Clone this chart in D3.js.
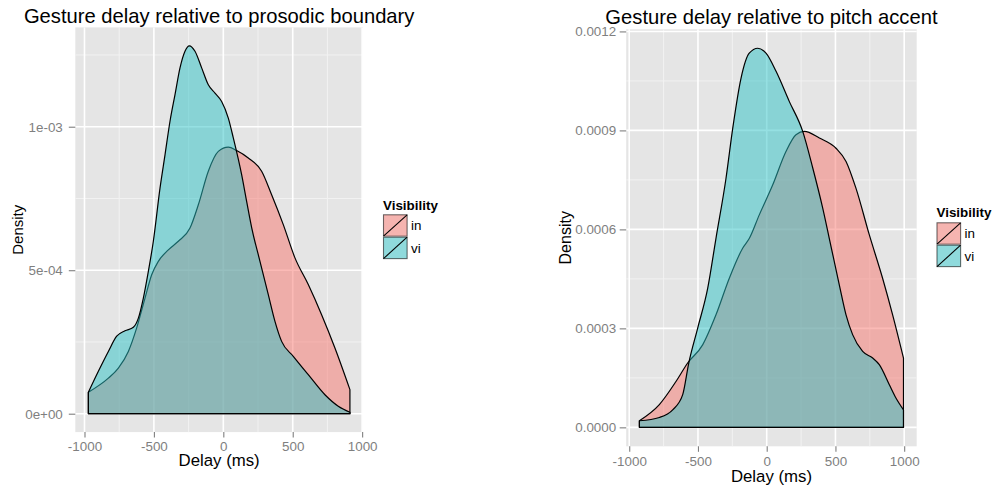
<!DOCTYPE html>
<html>
<head>
<meta charset="utf-8">
<script src="https://cdn.jsdelivr.net/npm/d3@7"></script>
<style>
body { margin: 0; background: #fff; }
svg text { font-family: "Liberation Sans", Arial, Helvetica, sans-serif; }
</style>
</head>
<body>
<div id="chart"></div>
<script>
// groups and fill colours
const groups = ["in", "vi"];
const colors = ["#F8766D", "#2BC2C6"];

// left plot: delay relative to prosodic boundary (density)
const boundaryInX = [-972, -828, -756, -684, -624, -564, -516, -468, -396, -324, -240, -180, -108, -36, 36, 96, 180, 276, 348, 432, 516, 612, 708, 804, 912];
const boundaryInY = [0.75e-4, 1.24e-4, 1.59e-4, 2.17e-4, 2.99e-4, 4.03e-4, 4.84e-4, 5.31e-4, 5.71e-4, 6.01e-4, 6.47e-4, 7.28e-4, 8.45e-4, 9.14e-4, 9.29e-4, 9.17e-4, 8.91e-4, 8.45e-4, 7.63e-4, 6.59e-4, 5.43e-4, 4.50e-4, 3.45e-4, 2.29e-4, 0.84e-4];
const boundaryViX = [-972, -900, -828, -768, -708, -648, -612, -576, -540, -504, -456, -420, -384, -348, -312, -276, -245, -204, -156, -108, -60, -12, 36, 72, 132, 168, 205, 264, 324, 372, 420, 504, 612, 732, 828, 912];
const boundaryViY = [0.75e-4, 1.48e-4, 2.17e-4, 2.70e-4, 2.89e-4, 3.01e-4, 3.33e-4, 4.03e-4, 4.96e-4, 6.01e-4, 7.86e-4, 9.02e-4, 10.19e-4, 11.12e-4, 12.05e-4, 12.63e-4, 12.82e-4, 12.63e-4, 12.05e-4, 11.46e-4, 11.17e-4, 10.88e-4, 10.30e-4, 9.61e-4, 8.33e-4, 7.40e-4, 6.47e-4, 5.31e-4, 4.15e-4, 3.22e-4, 2.52e-4, 2.00e-4, 1.36e-4, 0.66e-4, 0.26e-4, 0.05e-4];

// right plot: delay relative to pitch accent
const accentInX = [-926, -781, -660, -575, -466, -369, -272, -175, -126, -54, 44, 140, 213, 274, 383, 504, 577, 649, 746, 843, 916, 995];
const accentInY = [0.20e-4, 0.69e-4, 1.39e-4, 1.95e-4, 2.50e-4, 3.41e-4, 4.52e-4, 5.43e-4, 5.73e-4, 6.44e-4, 7.35e-4, 8.36e-4, 8.87e-4, 8.97e-4, 8.77e-4, 8.46e-4, 8.06e-4, 7.25e-4, 5.84e-4, 4.52e-4, 3.41e-4, 2.10e-4];
const accentViX = [-926, -781, -684, -611, -567, -502, -429, -369, -296, -247, -187, -127, -65, -5, 68, 164, 262, 335, 407, 455, 528, 577, 625, 698, 771, 819, 892, 940, 995];
const accentViY = [0.20e-4, 0.30e-4, 0.53e-4, 0.99e-4, 1.95e-4, 3.01e-4, 4.22e-4, 5.73e-4, 7.55e-4, 9.07e-4, 10.58e-4, 11.34e-4, 11.49e-4, 11.34e-4, 10.79e-4, 9.88e-4, 8.97e-4, 7.86e-4, 6.65e-4, 5.73e-4, 4.32e-4, 3.41e-4, 2.81e-4, 2.30e-4, 2.10e-4, 1.90e-4, 1.29e-4, 0.89e-4, 0.53e-4];

// tick values and labels
const xTicks = [-1000, -500, 0, 500, 1000];
const xTickLabels = ["-1000", "-500", "0", "500", "1000"];
const boundaryYTicks = [0, 0.0005, 0.001];
const boundaryYLabels = ["0e+00", "5e-04", "1e-03"];
const accentYTicks = [0, 0.0003, 0.0006, 0.0009, 0.0012];
const accentYLabels = ["0.0000", "0.0003", "0.0006", "0.0009", "0.0012"];

const svg = d3.select("#chart")
    .append("svg")
    .attr("width", 993)
    .attr("height", 486);

const panels = [
    {
        title: "Gesture delay relative to prosodic boundary",
        series: [{ x: boundaryInX, y: boundaryInY }, { x: boundaryViX, y: boundaryViY }],
        yTicks: boundaryYTicks, yLabels: boundaryYLabels,
        left: 75.3, right: 363, top: 27.4, bottom: 432.1,
        titleY: 23.3, yPad: 6, densityX: 23.3, densitySize: 15, xLabelPad: 3.8, xTitleY: 466,
        legendX: 383, legendY: 209.5, keyTop: 214.3
    },
    {
        title: "Gesture delay relative to pitch accent",
        series: [{ x: accentInX, y: accentInY }, { x: accentViX, y: accentViY }],
        yTicks: accentYTicks, yLabels: accentYLabels,
        left: 626.2, right: 916.7, top: 29.3, bottom: 446.3,
        titleY: 24.3, yPad: 3.5, densityX: 571, densitySize: 16, xLabelPad: 4.9, xTitleY: 482,
        legendX: 936.5, legendY: 217, keyTop: 222.3
    }
];

// midpoints between major ticks, kept inside the domain
function minorTicks(ticks, domain) {
    const step = ticks[1] - ticks[0];
    return d3.range(ticks[0] - step / 2, ticks[ticks.length - 1] + step, step)
        .filter(v => v >= domain[0] && v <= domain[1]);
}

panels.forEach(p => {
    const g = svg.append("g");

    // ggplot-like 5% expansion of the data range
    const xr = d3.extent(p.series.flatMap(s => s.x));
    const yr = d3.extent(p.series.flatMap(s => s.y).concat([0]));
    const xe = (xr[1] - xr[0]) * 0.05, ye = (yr[1] - yr[0]) * 0.05;
    const x = d3.scaleLinear().domain([xr[0] - xe, xr[1] + xe]).range([p.left, p.right]);
    const y = d3.scaleLinear().domain([yr[0] - ye, yr[1] + ye]).range([p.bottom, p.top]);

    // panel background
    g.append("rect")
        .attr("x", p.left)
        .attr("y", p.top)
        .attr("width", p.right - p.left)
        .attr("height", p.bottom - p.top)
        .attr("fill", "#E5E5E5");

    // minor grid
    g.selectAll(".vminor")
        .data(minorTicks(xTicks, x.domain()))
        .enter()
        .append("line")
        .attr("x1", d => x(d)).attr("x2", d => x(d))
        .attr("y1", p.top).attr("y2", p.bottom)
        .attr("stroke", "#F2F2F2")
        .attr("stroke-width", 1);
    g.selectAll(".hminor")
        .data(minorTicks(p.yTicks, y.domain()))
        .enter()
        .append("line")
        .attr("x1", p.left).attr("x2", p.right)
        .attr("y1", d => y(d)).attr("y2", d => y(d))
        .attr("stroke", "#F2F2F2")
        .attr("stroke-width", 1);

    // major grid
    g.selectAll(".vmajor")
        .data(xTicks.filter(v => v >= x.domain()[0] && v <= x.domain()[1]))
        .enter()
        .append("line")
        .attr("x1", d => x(d)).attr("x2", d => x(d))
        .attr("y1", p.top).attr("y2", p.bottom)
        .attr("stroke", "#fff")
        .attr("stroke-width", 1.6);
    g.selectAll(".hmajor")
        .data(p.yTicks)
        .enter()
        .append("line")
        .attr("x1", p.left).attr("x2", p.right)
        .attr("y1", d => y(d)).attr("y2", d => y(d))
        .attr("stroke", "#fff")
        .attr("stroke-width", 1.6);

    // density polygons, "in" first then "vi" on top
    const area = d3.area()
        .x(d => x(d[0]))
        .y0(y(0))
        .y1(d => y(d[1]))
        .curve(d3.curveMonotoneX);

    p.series.forEach((s, i) => {
        g.append("path")
            .datum(d3.zip(s.x, s.y))
            .attr("d", area)
            .attr("fill", colors[i])
            .attr("fill-opacity", 0.5)
            .attr("stroke", "#000")
            .attr("stroke-width", 1.2)
            .attr("stroke-linejoin", "round");
    });

    // axes
    const xAxis = g.append("g")
        .attr("transform", `translate(0,${p.bottom})`)
        .call(d3.axisBottom(x).tickValues(xTicks).tickFormat((d, i) => xTickLabels[i]).tickSize(5.5).tickPadding(p.xLabelPad));
    const yAxis = g.append("g")
        .attr("transform", `translate(${p.left},0)`)
        .call(d3.axisLeft(y).tickValues(p.yTicks).tickFormat((d, i) => p.yLabels[i]).tickSize(6.5).tickPadding(p.yPad));
    [xAxis, yAxis].forEach(a => {
        a.select(".domain").remove();
        a.selectAll("line").attr("stroke", "#7F7F7F").attr("stroke-width", 1.1);
        a.selectAll("text").attr("fill", "#7F7F7F").attr("font-size", 13.4);
    });

    // titles
    g.append("text")
        .attr("x", (p.left + p.right) / 2)
        .attr("y", p.titleY)
        .attr("text-anchor", "middle")
        .attr("font-size", 20.2)
        .attr("fill", "#000")
        .text(p.title);
    g.append("text")
        .attr("x", (p.left + p.right) / 2)
        .attr("y", p.xTitleY)
        .attr("text-anchor", "middle")
        .attr("font-size", 16.8)
        .attr("fill", "#000")
        .text("Delay (ms)");
    g.append("text")
        .attr("transform", `translate(${p.densityX},${(p.top + p.bottom) / 2}) rotate(-90)`)
        .attr("text-anchor", "middle")
        .attr("font-size", p.densitySize)
        .attr("fill", "#000")
        .text("Density");

    // legend
    const keyW = 24.6, keyH = 22.4;
    g.append("text")
        .attr("x", p.legendX)
        .attr("y", p.legendY)
        .attr("font-size", 13.4)
        .attr("font-weight", "bold")
        .attr("fill", "#000")
        .text("Visibility");
    const key = g.selectAll(".key")
        .data(groups)
        .enter()
        .append("g")
        .attr("transform", (d, i) => `translate(${p.legendX},${p.keyTop + i * keyH})`);
    key.append("rect")
        .attr("width", keyW)
        .attr("height", keyH)
        .attr("fill", "#F2F2F2");
    key.append("rect")
        .attr("x", 0.5).attr("y", 0.5)
        .attr("width", keyW - 1)
        .attr("height", keyH - 1)
        .attr("fill", (d, i) => colors[i])
        .attr("fill-opacity", 0.5)
        .attr("stroke", "rgba(0,0,0,0.55)")
        .attr("stroke-width", 1.1);
    key.append("line")
        .attr("x1", 0.5).attr("y1", keyH - 0.5)
        .attr("x2", keyW - 0.5).attr("y2", 0.5)
        .attr("stroke", "#000")
        .attr("stroke-width", 1.1);
    key.append("text")
        .attr("x", keyW + 3.5)
        .attr("y", keyH / 2 + 4.8)
        .attr("font-size", 13.4)
        .attr("fill", "#000")
        .text(d => d);
});
</script>
</body>
</html>
